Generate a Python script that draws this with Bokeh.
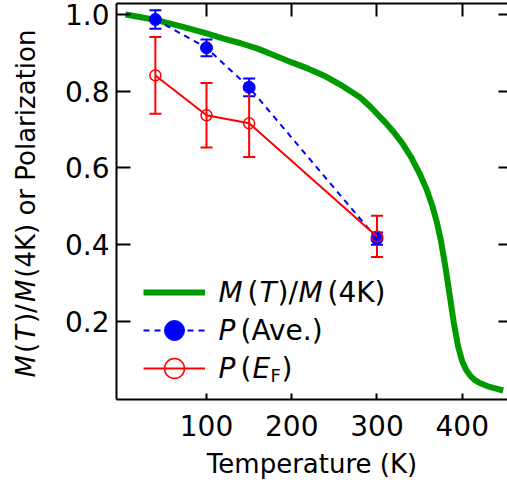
import math
from bokeh.plotting import figure
from bokeh.layouts import row
from bokeh.models import (ColumnDataSource, Whisker, TeeHead, LinearAxis, FixedTicker,
                          PrintfTickFormatter, Range1d, Legend, LegendItem, Label)
from bokeh.embed import file_html
from bokeh.resources import INLINE

# ---------------- data ----------------
temp_m = [5, 20, 40, 60, 80, 100, 120, 140, 160, 180, 200, 220, 240, 260, 280, 290,
          300, 310, 320, 330, 340, 350, 358, 365, 370, 375, 380, 385, 390, 395, 400,
          405, 410, 415, 420, 430, 440, 448]
m_ratio = [1.000, 0.994, 0.986, 0.975, 0.963, 0.951, 0.937, 0.925, 0.911, 0.893,
           0.875, 0.858, 0.838, 0.813, 0.784, 0.764, 0.741, 0.718, 0.692, 0.663,
           0.628, 0.585, 0.545, 0.500, 0.460, 0.410, 0.345, 0.272, 0.197, 0.135,
           0.095, 0.071, 0.056, 0.046, 0.039, 0.030, 0.024, 0.019]

temp_p = [40, 100, 150, 300]
p_ave = [0.987, 0.913, 0.810, 0.415]
p_ave_err = [0.024, 0.022, 0.023, 0.016]
p_ef = [0.841, 0.737, 0.716, 0.421]
p_ef_err = [0.100, 0.084, 0.088, 0.054]

x_ticks = [100, 200, 300, 400]
y_ticks = [0.2, 0.4, 0.6, 0.8, 1.0]
x_title = "Temperature (K)"
y_title_parts = [("M", "italic"), ("(", "normal"), ("T", "italic"), (")/", "normal"),
                 ("M", "italic"), ("(4K) or Polarization", "normal")]

GREEN = "#009a00"
BLUE = "#0000ff"
RED = "#ff0000"
FONT = "DejaVu Sans"

X0, X1 = -5.6, 453.1
Y0, Y1 = -0.0045, 1.0287
LEFT_W = 45        # width of the strip holding the vertical axis title
B_TOP, B_BOT = 3, 87
FRAME_H = 486 - B_TOP - B_BOT

# ---------------- strip with the rotated y-axis title ----------------
lf = figure(width=LEFT_W, height=486, output_backend="svg", toolbar_location=None,
            x_range=Range1d(0, LEFT_W), y_range=Range1d(0, FRAME_H),
            x_axis_type=None, y_axis_type=None, min_border_left=0,
            min_border_right=0, min_border_top=B_TOP, min_border_bottom=B_BOT)
lf.title.visible = False
lf.outline_line_color = None
lf.background_fill_color = "white"
lf.border_fill_color = "white"
title_offsets = [0, 24.4, 36.5, 54.4, 75.4, 99.8]
for off, (s, st) in zip(title_offsets, y_title_parts):
    lf.add_layout(Label(x=25, y=22 + off, text=s, text_font=FONT,
                        text_font_size="26px", text_font_style=st, text_color="black",
                        text_align="left", text_baseline="middle", angle=math.pi / 2))

# ---------------- main plot ----------------
p = figure(width=507 - LEFT_W, height=486, output_backend="svg", toolbar_location=None,
           x_range=Range1d(X0, X1), y_range=Range1d(Y0, Y1),
           min_border_left=116 - LEFT_W, min_border_right=0, min_border_top=B_TOP,
           min_border_bottom=B_BOT)
p.title.visible = False
p.grid.visible = False
p.outline_line_color = None
p.background_fill_color = "white"
p.border_fill_color = "white"

# bottom axis
xa = p.xaxis[0]
xa.ticker = FixedTicker(ticks=x_ticks)
xa.axis_line_width = 2
xa.major_tick_line_width = 2
xa.major_tick_in = 6
xa.major_tick_out = 0
xa.minor_tick_line_color = None
xa.major_label_text_font = FONT
xa.major_label_text_font_size = "28px"
xa.major_label_text_color = "black"
xa.major_label_standoff = 15
xa.axis_label = x_title
xa.axis_label_text_font = FONT
xa.axis_label_text_font_size = "26px"
xa.axis_label_text_font_style = "normal"
xa.axis_label_text_color = "black"
xa.axis_label_standoff = 10

# left axis
ya = p.yaxis[0]
ya.ticker = FixedTicker(ticks=y_ticks)
ya.formatter = PrintfTickFormatter(format="%.1f")
ya.axis_line_width = 2
ya.major_tick_line_width = 2
ya.major_tick_in = 14
ya.major_tick_out = 0
ya.minor_tick_line_color = None
ya.major_label_text_font = FONT
ya.major_label_text_font_size = "28px"
ya.major_label_text_color = "black"
ya.major_label_standoff = 7

# top axis (ticks only, no labels drawn)
top = LinearAxis(ticker=FixedTicker(ticks=x_ticks), major_label_text_font_size="0px",
                 major_label_text_color=None,
                 major_label_standoff=0, major_tick_in=13, major_tick_out=0,
                 major_tick_line_width=2, axis_line_width=2,
                 minor_tick_line_color=None)
p.add_layout(top, "above")

# right axis (ticks only, spine beyond the edge)
right = LinearAxis(ticker=FixedTicker(ticks=y_ticks), major_label_text_font_size="0px",
                   major_label_text_color=None,
                   major_label_standoff=0, major_tick_in=9, major_tick_out=0,
                   major_tick_line_width=2, axis_line_color=None,
                   minor_tick_line_color=None)
p.add_layout(right, "right")

# ---------------- glyphs ----------------
r_m = p.line(temp_m, m_ratio, line_color=GREEN, line_width=6)

ave_src = ColumnDataSource(dict(t=temp_p, v=p_ave,
                                up=[v + e for v, e in zip(p_ave, p_ave_err)],
                                lo=[v - e for v, e in zip(p_ave, p_ave_err)]))
ef_src = ColumnDataSource(dict(t=temp_p, v=p_ef,
                               up=[v + e for v, e in zip(p_ef, p_ef_err)],
                               lo=[v - e for v, e in zip(p_ef, p_ef_err)]))

r_avl = p.line("t", "v", source=ave_src, line_color=BLUE, line_width=2, line_dash="6 5")
p.add_layout(Whisker(base="t", upper="up", lower="lo", source=ave_src,
                     line_color=BLUE, line_width=2,
                     upper_head=TeeHead(size=12, line_color=BLUE, line_width=2),
                     lower_head=TeeHead(size=12, line_color=BLUE, line_width=2)))
r_avp = p.scatter("t", "v", source=ave_src, size=12, fill_color=BLUE, line_color=BLUE)

r_efl = p.line("t", "v", source=ef_src, line_color=RED, line_width=2)
p.add_layout(Whisker(base="t", upper="up", lower="lo", source=ef_src,
                     line_color=RED, line_width=2,
                     upper_head=TeeHead(size=12, line_color=RED, line_width=2),
                     lower_head=TeeHead(size=12, line_color=RED, line_width=2)))
r_efp = p.scatter("t", "v", source=ef_src, size=11, fill_color=None,
                  line_color=RED, line_width=1.5)

# ---------------- legend: one box per row for exact spacing ----------------
for rends, ybox in (([r_m], 82), ([r_avl, r_avp], 44), ([r_efl, r_efp], 6)):
    p.add_layout(Legend(items=[LegendItem(label=" ", renderers=rends)],
                        location=(27, ybox), glyph_width=62, glyph_height=50,
                        padding=0, margin=0, label_width=0, label_height=0,
                        label_standoff=0, label_text_font_size="1px",
                        label_text_color=None,
                        border_line_color=None, background_fill_alpha=0))


def txt(x, y, s, size, style="normal"):
    p.add_layout(Label(x=x, y=y, x_units="screen", y_units="screen", text=s,
                       text_font=FONT, text_font_size=size, text_font_style=style,
                       text_color="black", text_align="left", text_baseline="middle"))


# legend text (mixed italic), px from the frame's bottom-left
row1, row2, row3 = 107, 69, 31
txt(102, row1, "M", "28px", "italic")
txt(131, row1, "(", "28px")
txt(143, row1, "T", "28px", "italic")
txt(161, row1, ")/", "28px")
txt(182, row1, "M", "28px", "italic")
txt(211, row1, "(4K)", "28px")

txt(102, row2, "P", "28px", "italic")
txt(124, row2, "(Ave.)", "28px")

txt(102, row3, "P", "28px", "italic")
txt(124, row3, "(", "28px")
txt(136, row3, "E", "28px", "italic")
txt(154, row3 - 7, "F", "18px")
txt(165, row3, ")", "28px")

layout = row(lf, p, spacing=0)
open("out.html", "w").write(file_html(layout, INLINE))
